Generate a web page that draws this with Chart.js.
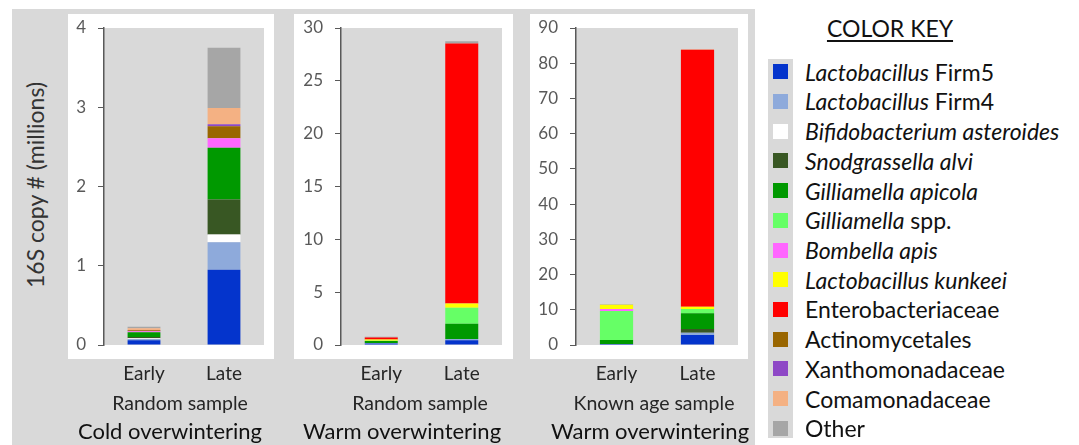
<!DOCTYPE html>
<html>
<head>
<meta charset="utf-8">
<script src="https://cdn.jsdelivr.net/npm/chart.js@4.4.1/dist/chart.umd.min.js"></script>
<style>
  html, body { margin:0; padding:0; background:#ffffff; }
  body { width:1079px; height:445px; position:relative; overflow:hidden; font-family:Lato, "Open Sans", sans-serif; }
  #bg { position:absolute; left:12px; top:9px; width:743px; height:436px; background:#d9d9d9; }
  canvas { position:absolute; }
  .lbl { position:absolute; transform:translate(-50%,-50%); white-space:nowrap; color:#262626; }
  #ytitle { position:absolute; left:35px; top:185px; transform:translate(-50%,-50%) rotate(-90deg); white-space:nowrap; font-size:23px; color:#333; }
  #keytitle { position:absolute; left:890px; top:28px; transform:translate(-50%,-50%); font-size:23px; text-decoration:underline; text-underline-offset:3px; color:#111; white-space:nowrap; }
  #strip { position:absolute; left:768px; top:59px; width:25px; height:379px; background:#d9d9d9; }
  .sw { position:absolute; left:773px; width:15px; height:15px; }
  .item { position:absolute; left:805px; transform:translateY(-50%); font-size:23px; color:#111; white-space:nowrap; }
</style>
</head>
<body>
<div id="bg"></div>
<div id="ytitle">16S copy # (millions)</div>
<div id="keytitle">COLOR KEY</div>
<div id="strip"></div>
<canvas id="c0"></canvas>
<canvas id="c1"></canvas>
<canvas id="c2"></canvas>
<script>
// Categories within each panel
const categories = ['Early', 'Late'];
// Column order: [Cold-Random Early, Cold-Random Late, Warm-Random Early, Warm-Random Late, Warm-Known Early, Warm-Known Late]
const firm5    = [0.06, 0.95, 0.15, 0.45, 0.30, 2.84];
const firm4    = [0.015, 0.345, 0.03, 0.12, 0, 0.65];
const bifido   = [0.01, 0.10, 0, 0, 0, 0];
const snod     = [0.015, 0.44, 0, 0, 0, 1.05];
const gApicola = [0.06, 0.655, 0.2, 1.45, 1.1, 4.45];
const gSpp     = [0, 0, 0.03, 1.5, 8.25, 1.22];
const bombella = [0.015, 0.12, 0, 0, 0.6, 0];
const kunkeei  = [0, 0, 0.12, 0.4, 1.2, 0.65];
const entero   = [0, 0, 0.19, 24.62, 0, 72.94];
const actino   = [0.01, 0.15, 0, 0, 0, 0];
const xantho   = [0.005, 0.025, 0, 0, 0, 0];
const comam    = [0.02, 0.205, 0, 0, 0, 0.2];
const other    = [0.02, 0.76, 0.05, 0.2, 0.1, 0];

// Series names: [italic part, regular part]
const seriesNames = [
  ['Lactobacillus', ' Firm5'], ['Lactobacillus', ' Firm4'], ['Bifidobacterium asteroides', ''],
  ['Snodgrassella alvi', ''], ['Gilliamella apicola', ''], ['Gilliamella', ' spp.'],
  ['Bombella apis', ''], ['Lactobacillus kunkeei', ''], ['', 'Enterobacteriaceae'],
  ['', 'Actinomycetales'], ['', 'Xanthomonadaceae'], ['', 'Comamonadaceae'], ['', 'Other']
];
const seriesColors = ['#0434cc', '#8eaadb', '#ffffff', '#385723', '#009900', '#66ff66',
  '#ff66ff', '#ffff00', '#ff0000', '#996600', '#8e48c6', '#f4b183', '#a6a6a6'];
const seriesData = [firm5, firm4, bifido, snod, gApicola, gSpp, bombella, kunkeei, entero, actino, xantho, comam, other];

// Panel axis ticks
const yMax = [4, 30, 90];
const yStep = [1, 5, 10];
const sampleLabels = ['Random sample', 'Random sample', 'Known age sample'];
const conditionLabels = ['Cold overwintering', 'Warm overwintering', 'Warm overwintering'];

// Layout (positions only)
const panels = [
  { left: 68, width: 206, yw: 36, rp: 10, sx: 180, cx: 170 },
  { left: 294, width: 219, yw: 47, rp: 11, sx: 420, cx: 402 },
  { left: 530, width: 218, yw: 46, rp: 10, sx: 654, cx: 650 }
];
const TOP = 14, H = 431, FRAME_H = 345;

const framePlugin = {
  id: 'frame',
  beforeDraw(chart) {
    const c = chart.ctx, a = chart.chartArea;
    c.save();
    c.fillStyle = '#ffffff';
    c.fillRect(0, 0, chart.width, FRAME_H);
    c.fillStyle = '#d9d9d9';
    c.fillRect(a.left, a.top, a.right - a.left, a.bottom - a.top);
    c.restore();
  }
};

panels.forEach((p, i) => {
  const cv = document.getElementById('c' + i);
  cv.width = p.width; cv.height = H;
  cv.style.left = p.left + 'px'; cv.style.top = TOP + 'px';
  cv.style.width = p.width + 'px'; cv.style.height = H + 'px';
  new Chart(cv, {
    type: 'bar',
    data: {
      labels: categories,
      datasets: seriesData.map((arr, k) => ({
        label: seriesNames[k].join(''),
        data: arr.slice(2 * i, 2 * i + 2),
        backgroundColor: seriesColors[k],
        borderWidth: 0,
        categoryPercentage: 1,
        barPercentage: 0.41
      }))
    },
    options: {
      responsive: false, animation: false, devicePixelRatio: 1,
      layout: { padding: { top: 14, right: p.rp, left: 0, bottom: 0 } },
      plugins: { legend: { display: false }, tooltip: { enabled: false } },
      scales: {
        x: {
          stacked: true,
          grid: { display: false, drawTicks: false },
          border: { display: false },
          ticks: { color: '#262626', font: { family: 'Lato', size: 19 }, padding: 17 },
          afterFit(s) { s.height = 100; s.paddingLeft = 0; s.paddingRight = 0; }
        },
        y: {
          stacked: true, min: 0, max: yMax[i],
          ticks: { stepSize: yStep[i], color: '#595959', font: { family: 'Lato', size: 17 }, padding: 12 },
          grid: { display: true, drawOnChartArea: false, drawTicks: true, tickLength: 6, color: '#595959', lineWidth: 1 },
          border: { display: true, color: '#595959', width: 1.5 },
          afterFit(s) { s.width = p.yw; s.paddingTop = 0; s.paddingBottom = 0; }
        }
      }
    },
    plugins: [framePlugin]
  });
  const s = document.createElement('div');
  s.className = 'lbl'; s.textContent = sampleLabels[i];
  s.style.left = p.sx + 'px'; s.style.top = '402px'; s.style.fontSize = '19.5px';
  document.body.appendChild(s);
  const c = document.createElement('div');
  c.className = 'lbl'; c.textContent = conditionLabels[i];
  c.style.left = p.cx + 'px'; c.style.top = '430px'; c.style.fontSize = '22px'; c.style.color = '#111';
  document.body.appendChild(c);
});

// Color key
seriesNames.forEach((n, k) => {
  const y = 71.7 + 29.72 * k;
  const sw = document.createElement('div');
  sw.className = 'sw'; sw.style.top = (y - 7.5) + 'px'; sw.style.background = seriesColors[k];
  document.body.appendChild(sw);
  const it = document.createElement('div');
  it.className = 'item'; it.style.top = y + 'px';
  if (n[0]) { const e = document.createElement('i'); e.textContent = n[0]; it.appendChild(e); }
  if (n[1]) it.appendChild(document.createTextNode(n[1]));
  document.body.appendChild(it);
});
</script>
</body>
</html>
